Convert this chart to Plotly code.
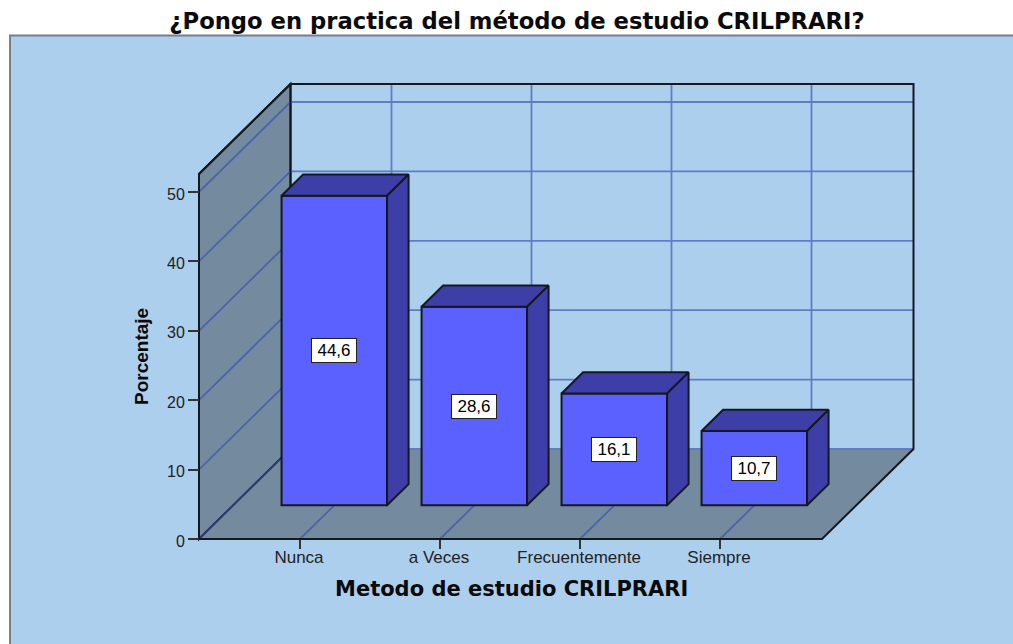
import plotly.graph_objects as go

# ---- data ----
categories = ["Nunca", "a Veces", "Frecuentemente", "Siempre"]
percentages = [44.6, 28.6, 16.1, 10.7]
y_ticks = [0, 10, 20, 30, 40, 50]
title = "¿Pongo en practica del método de estudio CRILPRARI?"
x_title = "Metodo de estudio CRILPRARI"
y_title = "Porcentaje"

# ---- page geometry ----
W, H = 1013, 644
PX_PER_CAT = 140.0
PX_PER_PCT = 6.94
ORIGIN_X, ORIGIN_Y = 300.0, 539.0  # pixel of category 0 / value 0


def cx(px):
    return (px - ORIGIN_X) / PX_PER_CAT


def cy(px):
    return (ORIGIN_Y - px) / PX_PER_PCT


# ---- oblique box ----
DX = 91.5 / PX_PER_CAT      # full depth, in category units
DY = 90.0 / PX_PER_PCT      # full depth, in percent units
X_L = cx(199)
X_R = cx(822)
Y_TOP = cy(174)
BAR_W = 105.5 / PX_PER_CAT
D_FRONT = 0.375
D_BACK = 0.61

BG = "#ADCFEE"
WALL = "#748A9E"
GRID = "#5F7CC4"
WALL_GRID = "#4A64AC"
INK = "#14181F"
FRONT = "#5B61FF"
DARK = "#3E3EA8"
pos = list(range(len(categories)))


def p(x, y, d=0.0):
    return x + DX * d, y + DY * d


def poly(points, fill=None, color=INK, width=1.5):
    path = "M " + " L ".join(f"{a},{b}" for a, b in points)
    if fill:
        path += " Z"
    return dict(type="path", path=path, xref="x", yref="y", layer="below",
                fillcolor=fill or "rgba(0,0,0,0)",
                line=dict(color=color, width=width))


shapes = []
# frame
shapes.append(dict(type="rect", xref="x", yref="y", layer="below",
                   x0=cx(10), x1=cx(W + 20), y0=cy(H + 20), y1=cy(35.5),
                   fillcolor=BG, line=dict(color="#777F88", width=2)))
# left wall and floor
shapes.append(poly([p(X_L, 0), p(X_L, 0, 1), p(X_L, Y_TOP, 1), p(X_L, Y_TOP)], WALL, INK, 2))
shapes.append(poly([p(X_L, 0), p(X_R, 0), p(X_R, 0, 1), p(X_L, 0, 1)], WALL, "rgba(0,0,0,0)", 0))
# grid
for t in y_ticks:
    if t:
        shapes.append(poly([p(X_L, t), p(X_L, t, 1)], None, WALL_GRID, 1.8))
        shapes.append(poly([p(X_L, t, 1), p(X_R, t, 1)], None, GRID, 1.8))
shapes.append(poly([p(X_L, 0, 1), p(X_R, 0, 1)], None, GRID, 1.8))
shapes.append(poly([p(X_L, 0), p(X_L, 0, 1)], None, "#2E3A70", 2))
for c in pos:
    shapes.append(poly([p(c, 0), p(c, 0, 1)], None, WALL_GRID, 1.8))
    shapes.append(poly([p(c, 0, 1), p(c, Y_TOP, 1)], None, GRID, 1.8))
# box outlines
shapes.append(poly([p(X_L, 0), p(X_R, 0), p(X_R, 0, 1), p(X_R, Y_TOP, 1), p(X_L, Y_TOP, 1),
                    p(X_L, 0, 1)], None, INK, 2))
shapes.append(poly([p(X_L, 0), p(X_L, Y_TOP), p(X_L, Y_TOP, 1)], None, INK, 2))

fig = go.Figure()
base_y = DY * D_FRONT
bar_x = [c + DX * D_FRONT for c in pos]
fig.add_trace(go.Bar(x=bar_x, y=percentages, base=base_y, width=BAR_W,
                     marker=dict(color=FRONT, line=dict(color=INK, width=2)),
                     hoverinfo="skip", showlegend=False))

ddx = DX * (D_BACK - D_FRONT)
ddy = DY * (D_BACK - D_FRONT)
for x, v in zip(bar_x, percentages):
    l, r, b, t = x - BAR_W / 2, x + BAR_W / 2, base_y, base_y + v
    top = [(l, t), (r, t), (r + ddx, t + ddy), (l + ddx, t + ddy), (l, t)]
    side = [(r, b), (r + ddx, b + ddy), (r + ddx, t + ddy), (r, t), (r, b)]
    for face in (top, side):
        fig.add_trace(go.Scatter(x=[q[0] for q in face], y=[q[1] for q in face],
                                 mode="lines", fill="toself", fillcolor=DARK,
                                 line=dict(color=INK, width=2),
                                 hoverinfo="skip", showlegend=False))

annotations = [
    dict(x=x, y=base_y + v / 2, xref="x", yref="y", text=f"{v:.1f}".replace(".", ","),
         showarrow=False, bgcolor="white", bordercolor="#222222", borderwidth=1,
         width=44, height=23, borderpad=0,
         font=dict(family="Liberation Sans", size=17, color="black"))
    for x, v in zip(bar_x, percentages)
]
annotations.append(dict(x=cx(511), y=cy(589), xref="x", yref="y", text=f"<b>{x_title}</b>",
                        showarrow=False,
                        font=dict(family="DejaVu Sans", size=21, color="#0A0A0A")))
annotations.append(dict(x=cx(141), y=cy(357), xref="x", yref="y", text=f"<b>{y_title}</b>",
                        textangle=-90, showarrow=False,
                        font=dict(family="Liberation Sans", size=19, color="#0A0A0A")))

fig.update_layout(
    width=W, height=H, margin=dict(l=0, r=0, t=0, b=0, pad=0),
    paper_bgcolor="white", plot_bgcolor="rgba(0,0,0,0)", showlegend=False,
    title=dict(text=f"<b>{title}</b>", x=517 / W, xanchor="center",
               y=1 - 21.5 / H, yanchor="middle",
               font=dict(family="DejaVu Sans", size=22.7, color="#0A0A0A")),
    shapes=shapes, annotations=annotations,
    xaxis=dict(range=[cx(0), cx(W)], anchor="free", position=(H - ORIGIN_Y) / H,
               tickmode="array", tickvals=pos, ticktext=categories,
               ticks="outside", ticklen=9, tickwidth=2, tickcolor="#333333",
               ticklabelstandoff=-6, ticklabelshift=-1,
               showgrid=False, zeroline=False, showline=False,
               tickfont=dict(family="Liberation Sans", size=17, color="#222222")),
    yaxis=dict(range=[cy(H), cy(0)], anchor="free", position=199 / W,
               tickmode="array", tickvals=y_ticks, ticktext=[str(t) for t in y_ticks],
               ticks="outside", ticklen=11, tickwidth=2, tickcolor="#333333",
               ticklabelshift=2,
               showgrid=False, zeroline=False, showline=False,
               tickfont=dict(family="Liberation Sans", size=16, color="#222222")),
)
fig.write_html("out.html", config={"displayModeBar": False},
               post_script="document.body.style.margin='0';")
